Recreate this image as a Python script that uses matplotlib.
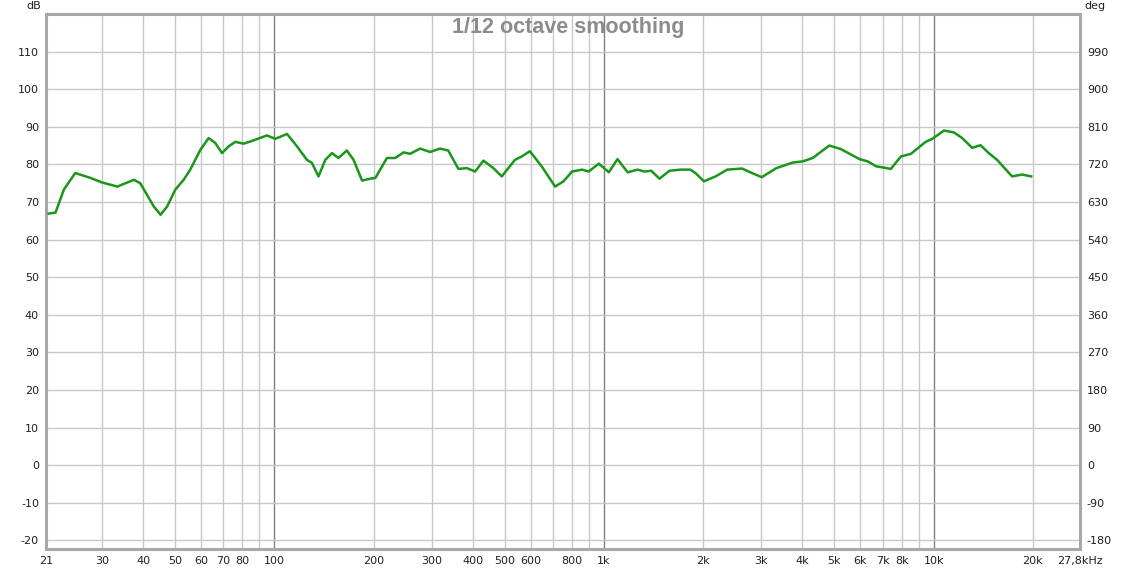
import numpy as np
import matplotlib
matplotlib.use("Agg")
import matplotlib.pyplot as plt

plt.rcParams['font.family'] = ['DejaVu Sans']
plt.rcParams['axes.unicode_minus'] = False

# frequency response (Hz, dB)
freq = [20.7, 21.7, 23.0, 24.9, 27.7, 30.0, 33.4, 37.5, 39.2, 43.1, 45.2, 47.3,
        50.1, 53.1, 55.6, 59.7, 63.2, 66.2, 69.4, 72.7, 76.2, 80.7, 86.6, 95.0,
        100.7, 109.3, 117.2, 125.6, 130, 136.2, 142.8, 149.6, 156.6, 166, 174,
        184.6, 195.6, 202.6, 219.6, 232.8, 246.8, 258, 276.8, 296.8, 318, 337,
        361.8, 383.7, 406.6, 431, 462, 489.8, 537, 563, 596, 647, 711, 754, 800,
        858, 899, 965, 1035, 1099, 1180, 1265, 1327, 1391, 1474, 1580, 1704,
        1829, 1895, 2010, 2181, 2364, 2623, 2778, 3010, 3335, 3743, 4009, 4298,
        4822, 5223, 5960, 6312, 6687, 7418, 7957, 8528, 9463, 9909, 10752,
        11526, 12209, 13091, 13871, 14700, 15580, 17300, 18560, 19770]
spl = [66.9, 67.2, 73.3, 77.7, 76.4, 75.2, 74.1, 75.9, 75.0, 68.8, 66.6, 68.8,
       73.3, 75.9, 78.6, 83.9, 87.0, 85.7, 83.0, 84.8, 86.0, 85.5, 86.4, 87.7,
       86.8, 88.1, 84.8, 81.2, 80.4, 76.8, 81.2, 83.0, 81.7, 83.7, 81.2,
       75.7, 76.2, 76.4, 81.7, 81.7, 83.2, 82.8, 84.2, 83.3, 84.2, 83.7,
       78.8, 79.0, 78.1, 81.0, 79.0, 76.8, 81.2, 82.1, 83.5, 79.5, 74.1, 75.5, 78.1,
       78.6, 78.1, 80.2, 77.9, 81.4, 77.9, 78.6, 78.1, 78.3, 76.2, 78.3, 78.6,
       78.6, 77.7, 75.5, 76.8, 78.6, 78.9, 77.9, 76.6, 79.0, 80.5, 80.8, 81.7,
       85.0, 84.1, 81.4, 80.8, 79.5, 78.8, 82.1, 82.8, 86.0, 86.8, 89.0,
       88.5, 87.0, 84.4, 85.1, 83.0, 81.2, 76.8, 77.3, 76.8]

grid_freqs = [30, 40, 50, 60, 70, 80, 90, 100, 200, 300, 400, 500, 600, 700, 800,
              900, 1000, 2000, 3000, 4000, 5000, 6000, 7000, 8000, 9000, 10000, 20000]
decades = [100, 1000, 10000]
x_ticks = [20.3, 30, 40, 50, 60, 70, 80, 100, 200, 300, 400, 500, 600, 800, 1000,
           2000, 3000, 4000, 5000, 6000, 7000, 8000, 10000, 20000, 27800]
x_labels = ['21', '30', '40', '50', '60', '70', '80', '100', '200', '300', '400',
            '500', '600', '800', '1k', '2k', '3k', '4k', '5k', '6k', '7k', '8k',
            '10k', '20k', '27,8kHz']
db_ticks = list(range(-20, 111, 10))
deg_ticks = list(range(-180, 991, 90))

fig = plt.figure(figsize=(11.37, 5.70), dpi=100)
ax = fig.add_axes([46/1137, 21/570, 1034/1137, 535/570])

for f in grid_freqs:
    ax.axvline(f, color='#808080' if f in decades else '#c8c8c8', lw=1, zorder=1)
for d in db_ticks:
    ax.axhline(d, color='#c8c8c8', lw=1, zorder=1)

ax.plot(freq, spl, color='#1a961a', lw=1.8, zorder=3)

ax.set_xscale('log')
ax.set_xlim(20.3, 27800)
ax.set_ylim(-22.3, 120)
ax.set_xticks(x_ticks)
ax.set_xticklabels(x_labels)
ax.xaxis.set_minor_locator(matplotlib.ticker.NullLocator())
ax.set_yticks(db_ticks)
ax.tick_params(length=0, labelsize=8, pad=5, colors='#202020')
for s in ax.spines.values():
    s.set_color('#a8a8a8')
    s.set_linewidth(2.2)

ax2 = ax.twinx()
ax2.set_ylim(-22.3 * 9, 120 * 9)
ax2.set_yticks(deg_ticks)
ax2.tick_params(length=0, labelsize=8, pad=5, colors='#202020')
for s in ax2.spines.values():
    s.set_visible(False)

fig.text(41/1137, 1 - 6/570, 'dB', ha='right', va='center', fontsize=8, color='#202020')
fig.text(1084/1137, 1 - 6/570, 'deg', ha='left', va='center', fontsize=8, color='#202020')
fig.text(568/1137, 1 - 27/570, '1/12 octave smoothing', ha='center', va='center',
         fontsize=15.5, fontweight='bold', color='#8c8c8c', family='Liberation Sans')

fig.savefig('out.png', dpi=100)
